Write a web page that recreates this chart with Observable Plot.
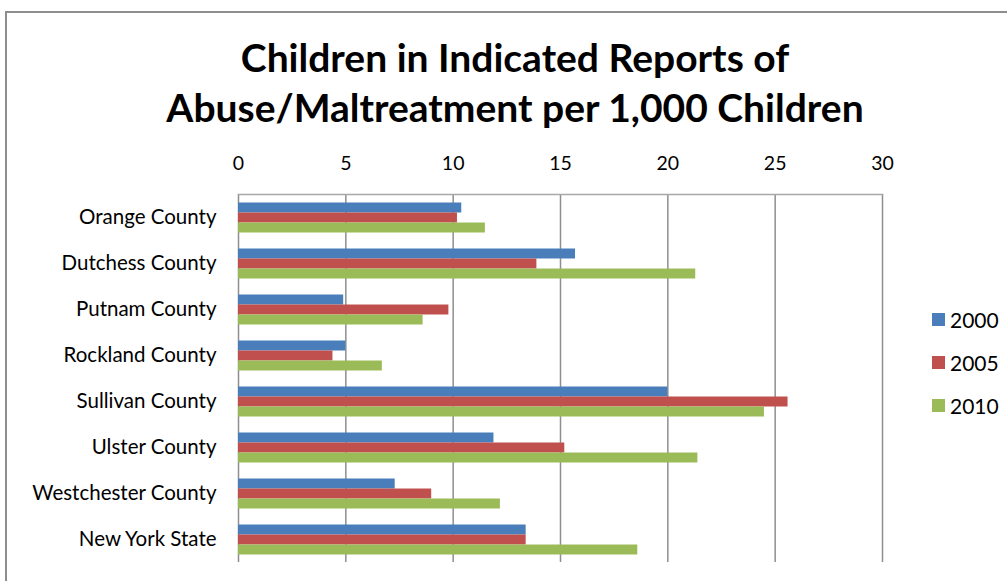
<!DOCTYPE html>
<html><head><meta charset="utf-8">
<script src="https://cdn.jsdelivr.net/npm/d3@7"></script>
<script src="https://cdn.jsdelivr.net/npm/@observablehq/plot@0.6"></script>
<style>
body{margin:0;background:#fff;}
#wrap{position:relative;width:1007px;height:581px;overflow:hidden;font-family:Lato, "Open Sans", sans-serif;background:#fff;}
#border{position:absolute;left:5px;top:11px;width:1100px;height:700px;border-left:2px solid #8e8e8e;border-top:2px solid #8e8e8e;}
#title{position:absolute;left:0;width:1030px;top:32px;text-align:center;font-weight:bold;font-size:39px;line-height:50px;color:#000;}
#chart{position:absolute;left:0;top:0;}
#legend{position:absolute;left:932px;top:298px;font-size:21px;color:#000;}
.li{display:flex;align-items:center;height:43px;}
.sw{width:13px;height:13px;margin-right:5px;}
</style>
</head><body>
<div id="wrap">
<div id="border"></div>
<div id="chart"></div>
<div id="title">Children in Indicated Reports of<br>Abuse/Maltreatment per 1,000 Children</div>
<div id="legend"></div>
</div>
<script>
const counties = ["Orange County","Dutchess County","Putnam County","Rockland County","Sullivan County","Ulster County","Westchester County","New York State"];
const years = ["2000","2005","2010"];
const v2000 = [10.4, 15.7, 4.9, 5.0, 20.0, 11.9, 7.3, 13.4];
const v2005 = [10.2, 13.9, 9.8, 4.4, 25.6, 15.2, 9.0, 13.4];
const v2010 = [11.5, 21.3, 8.6, 6.7, 24.5, 21.4, 12.2, 18.6];
const xTicks = [0, 5, 10, 15, 20, 25, 30];
const colors = ["#4a7ebb", "#c0504d", "#9bbb59"];

const series = [v2000, v2005, v2010];
const data = [];
counties.forEach((c, i) => years.forEach((y, j) => data.push({county: c, year: y, value: series[j][i]})));

const chart = Plot.plot({
  width: 1007, height: 581,
  marginTop: 191.5, marginBottom: 16, marginLeft: 238, marginRight: 125,
  style: {fontFamily: "Lato, 'Open Sans', sans-serif", fontSize: "20px", color: "#000", background: "transparent", overflow: "visible"},
  x: {domain: [0, 30]},
  fy: {domain: counties, padding: 0},
  y: {domain: years, paddingInner: 0, paddingOuter: 0.75, axis: null},
  color: {domain: years, range: colors},
  marks: [
    Plot.gridX(xTicks, {stroke: "#8e8e8e", strokeOpacity: 1, strokeWidth: 1.5}),
    Plot.frame({anchor: "top", facet: "super", stroke: "#a8a8a8", strokeWidth: 1.5}),
    Plot.barX(data, {x: "value", y: "year", fy: "county", fill: "year"}),
    Plot.axisX(xTicks, {anchor: "top", tickSize: 0, tickPadding: 25, label: null, fontSize: 19.5}),
    Plot.axisFy({anchor: "left", tickSize: 0, tickPadding: 22, label: null, fontSize: 20.5})
  ]
});
document.getElementById("chart").appendChild(chart);

const leg = document.getElementById("legend");
years.forEach((y, i) => {
  const d = document.createElement("div"); d.className = "li";
  d.innerHTML = `<div class="sw" style="background:${colors[i]}"></div><span>${y}</span>`;
  leg.appendChild(d);
});
</script>
</body></html>
